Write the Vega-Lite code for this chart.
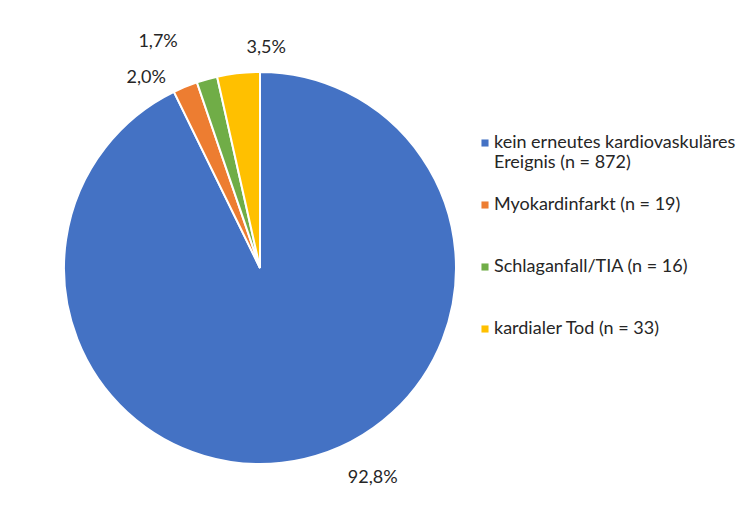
{
  "$schema": "https://vega.github.io/schema/vega-lite/v6.json",
  "autosize": {"type": "none"},
  "width": 392,
  "height": 392,
  "padding": {"left": 64, "top": 72, "right": 299, "bottom": 56},
  "background": "white",
  "config": {"view": {"stroke": null}, "font": "Lato"},
  "data": {
    "values": [
      {"cat": "kein erneutes kardiovaskuläres Ereignis (n = 872)", "n": 872, "ord": 1, "label": "92,8%"},
      {"cat": "Myokardinfarkt (n = 19)", "n": 19, "ord": 2, "label": "2,0%"},
      {"cat": "Schlaganfall/TIA (n = 16)", "n": 16, "ord": 3, "label": "1,7%"},
      {"cat": "kardialer Tod (n = 33)", "n": 33, "ord": 4, "label": "3,5%"}
    ]
  },
  "encoding": {
    "theta": {"field": "n", "type": "quantitative", "stack": true},
    "order": {"field": "ord", "type": "quantitative"}
  },
  "layer": [
    {
      "mark": {"type": "arc", "stroke": "white", "strokeWidth": 2},
      "encoding": {
        "color": {
          "field": "cat",
          "type": "nominal",
          "sort": {"field": "ord"},
          "scale": {
            "domain": ["kein erneutes kardiovaskuläres Ereignis (n = 872)", "Myokardinfarkt (n = 19)", "Schlaganfall/TIA (n = 16)", "kardialer Tod (n = 33)"],
            "range": ["#4472C4", "#ED7D31", "#70AD47", "#FFC000"]
          },
          "legend": {
            "orient": "none",
            "legendX": 412,
            "legendY": 62,
            "title": null,
            "symbolType": "square",
            "symbolSize": 50,
            "symbolStrokeWidth": 0,
            "labelFontSize": 18,
            "labelFont": "Lato",
            "labelColor": "#262626",
            "labelLimit": 400,
            "labelOffset": 0,
            "gridAlign": "all",
            "rowPadding": 24,
            "labelExpr": "datum.label == 'kein erneutes kardiovaskuläres Ereignis (n = 872)' ? ['kein erneutes kardiovaskuläres', 'Ereignis (n = 872)'] : datum.label"
          }
        }
      }
    },
    {
      "mark": {"type": "text", "radius": 225, "dx": 62, "dy": -9, "fontSize": 18, "color": "#262626"},
      "encoding": {"text": {"condition": {"test": "datum.ord == 1", "field": "label"}, "value": ""}}
    },
    {
      "mark": {"type": "text", "radius": 225, "dx": -28, "dy": 18, "fontSize": 18, "color": "#262626"},
      "encoding": {"text": {"condition": {"test": "datum.ord == 2", "field": "label"}, "value": ""}}
    },
    {
      "mark": {"type": "text", "radius": 225, "dx": -41, "dy": -9, "fontSize": 18, "color": "#262626"},
      "encoding": {"text": {"condition": {"test": "datum.ord == 3", "field": "label"}, "value": ""}}
    },
    {
      "mark": {"type": "text", "radius": 225, "dx": 31, "dy": 4, "fontSize": 18, "color": "#262626"},
      "encoding": {"text": {"condition": {"test": "datum.ord == 4", "field": "label"}, "value": ""}}
    }
  ]
}
